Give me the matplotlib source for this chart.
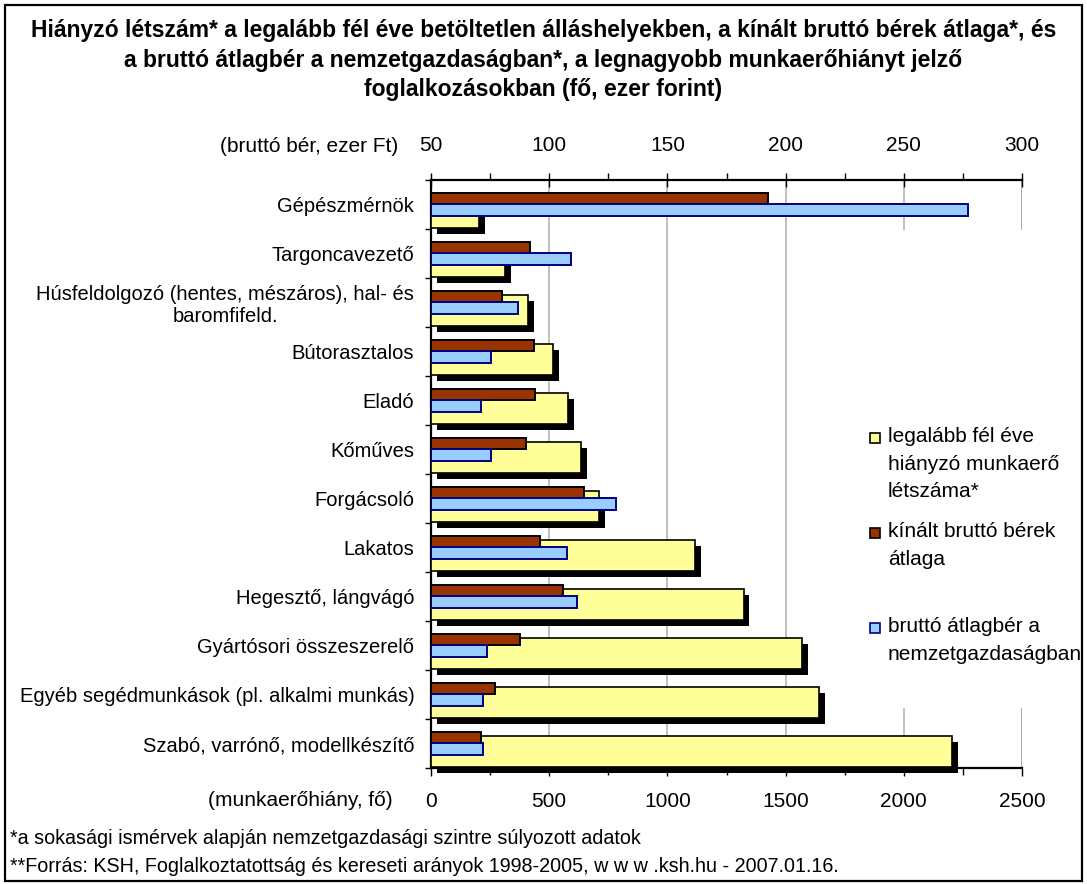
import matplotlib
matplotlib.use("Agg")
import matplotlib.pyplot as plt
import numpy as np
from matplotlib.patches import Rectangle
import matplotlib.patheffects as pe

# ---------------- data ----------------
categories = [
    "Gépészmérnök",
    "Targoncavezető",
    "Húsfeldolgozó (hentes, mészáros), hal- és\nbaromfifeld.",
    "Bútorasztalos",
    "Eladó",
    "Kőműves",
    "Forgácsoló",
    "Lakatos",
    "Hegesztő, lángvágó",
    "Gyártósori összeszerelő",
    "Egyéb segédmunkások (pl. alkalmi munkás)",
    "Szabó, varrónő, modellkészítő",
]
hiany = [205, 315, 410, 515, 580, 635, 710, 1115, 1322, 1570, 1643, 2205]
kinalt_ber = [192.5, 91.8, 80.2, 93.6, 94.2, 90.2, 114.7, 95.9, 105.9, 87.6, 77.1, 71.2]
atlag_ber = [277.2, 109.1, 86.9, 75.4, 71.3, 75.3, 128.1, 107.4, 111.7, 73.8, 72.1, 71.9]
bottom_ticks = [0, 500, 1000, 1500, 2000, 2500]
top_ticks = [50, 100, 150, 200, 250, 300]
legend_labels = [
    "legalább fél éve\nhiányzó munkaerő\nlétszáma*",
    "kínált bruttó bérek\nátlaga",
    "bruttó átlagbér a\nnemzetgazdaságban",
]
title = ("Hiányzó létszám* a legalább fél éve betöltetlen álláshelyekben, a kínált bruttó bérek átlaga*, és\n"
         "a bruttó átlagbér a nemzetgazdaságban*, a legnagyobb munkaerőhiányt jelző\n"
         "foglalkozásokban (fő, ezer forint)")
footnote1 = "*a sokasági ismérvek alapján nemzetgazdasági szintre súlyozott adatok"
footnote2 = "**Forrás: KSH, Foglalkoztatottság és kereseti arányok 1998-2005, w w w .ksh.hu - 2007.01.16."

# ---------------- style ----------------
plt.rcParams["font.family"] = ["Liberation Sans", "DejaVu Sans"]
YELLOW = "#FFFF99"
RED = "#993300"
BLUE = "#99CCFF"
W, H = 1087, 884
FS_TICK = 15
FS_CAT = 14.5

fig = plt.figure(figsize=(W / 100, H / 100), dpi=100)
fig.patch.set_facecolor("white")

def fx(px):
    return px / W

def fy(py):
    return 1 - py / H

ax_left, ax_right, ax_top, ax_bottom = 431, 1022, 180, 768
ax = fig.add_axes([fx(ax_left), fy(ax_bottom), fx(ax_right - ax_left), (ax_bottom - ax_top) / H])

n = len(categories)
y = np.arange(n)

# yellow bars (primary, bottom axis)
shadow = [pe.SimplePatchShadow(offset=(4.3, -4.3), shadow_rgbFace="black", alpha=1.0), pe.Normal()]
ybars = ax.barh(y + 0.165, hiany, height=0.63, color=YELLOW, edgecolor="black",
                linewidth=1.2, zorder=3)
for b in ybars:
    b.set_path_effects(shadow)
    b.set_clip_on(False)

ax.set_xlim(0, 2500)
ax.set_ylim(n - 0.5, -0.5)
ax.set_xticks(bottom_ticks)
ax.set_xticks([250, 750, 1250, 1750, 2250], minor=True)
ax.grid(axis="x", which="major", color="#b4b4b4", linewidth=1.2, zorder=0)
ax.axvline(2500, color="#808080", linewidth=2, zorder=0.5)
ax.set_axisbelow(True)

ax.set_yticks(np.arange(-0.5, n, 1))
ax.set_yticklabels([])
ax.set_yticks(y, minor=True)
ax.set_yticklabels(categories, minor=True, fontsize=FS_CAT)
for t in ax.get_yticklabels(minor=True):
    t.set_multialignment("center")
ax.tick_params(axis="y", which="major", direction="out", length=4, width=1, color="black")
ax.tick_params(axis="y", which="minor", length=0, pad=12)
ax.tick_params(axis="x", which="major", direction="out", length=6, width=1, labelsize=FS_TICK, pad=11)
ax.tick_params(axis="x", which="minor", direction="out", length=5, width=1)

for s in ["top", "right"]:
    ax.spines[s].set_visible(False)
ax.spines["left"].set_linewidth(1.6)
ax.spines["bottom"].set_linewidth(1.6)

# secondary (top axis) bars
ax2 = ax.twiny()
ax2.barh(y - 0.12, [v - 50 for v in kinalt_ber], left=50, height=0.22, color=RED,
         edgecolor="black", linewidth=1.4, zorder=3)
ax2.barh(y + 0.11, [v - 50 for v in atlag_ber], left=50, height=0.24, color=BLUE,
         edgecolor="#000080", linewidth=1.4, zorder=3)
ax2.set_xlim(50, 300)
ax2.set_xticks(top_ticks)
ax2.set_xticks([75, 125, 175, 225, 275], minor=True)
ax2.tick_params(axis="x", which="major", direction="inout", length=10, width=1, labelsize=FS_TICK, pad=13)
ax2.tick_params(axis="x", which="minor", direction="out", length=5, width=1)
for s in ["left", "right", "bottom"]:
    ax2.spines[s].set_visible(False)
ax2.spines["top"].set_linewidth(1.6)

# axis captions
fig.text(fx(398), fy(146), "(bruttó bér, ezer Ft)", ha="right", va="center", fontsize=FS_TICK)
fig.text(fx(393), fy(800), "(munkaerőhiány, fő)", ha="right", va="center", fontsize=FS_TICK)

# title
fig.text(0.5, fy(60), title, ha="center", va="center", fontsize=16.5, fontweight="bold",
         linespacing=1.38)

# legend (key box)
fig.patches.append(Rectangle((fx(852), fy(708)), fx(1081 - 852), (708 - 230) / H,
                             transform=fig.transFigure, facecolor="white", edgecolor="none",
                             zorder=4))
key_colors = [(YELLOW, "black"), (RED, "black"), (BLUE, "#000080")]
key_y = [438, 533, 628]
for (fc, ec), lab, ky in zip(key_colors, legend_labels, key_y):
    fig.patches.append(Rectangle((fx(870), fy(ky + 5)), fx(10), 10 / H, transform=fig.transFigure,
                                 facecolor=fc, edgecolor=ec, linewidth=1.2, zorder=5))
    fig.text(fx(888), fy(ky - 11), lab, ha="left", va="top", fontsize=FS_TICK,
             linespacing=1.58, zorder=6)

# footnotes
fig.text(fx(10), fy(839), footnote1, ha="left", va="center", fontsize=14.2)
fig.text(fx(10), fy(866), footnote2, ha="left", va="center", fontsize=14.2)

# outer border
fig.patches.append(Rectangle((fx(5), fy(881)), fx(1077), 876 / H, transform=fig.transFigure,
                             facecolor="none", edgecolor="black", linewidth=1.6, zorder=10))

fig.savefig("out.png", dpi=100)
